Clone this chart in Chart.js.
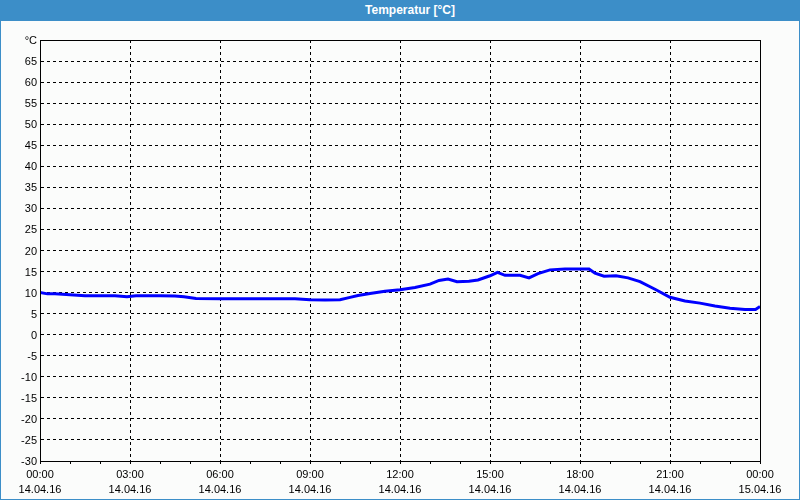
<!DOCTYPE html>
<html>
<head>
<meta charset="utf-8">
<script src="https://cdn.jsdelivr.net/npm/chart.js@4"></script>
<style>
  html, body { margin: 0; padding: 0; background: #fbfcfb; }
  #wrap {
    width: 800px; height: 500px; box-sizing: border-box;
    border: 1px solid #3c8ec8; border-top: none;
    background: #fbfcfb; position: relative;
  }
  #title {
    height: 21px; margin: 0 -1px; background: #3c8ec8; color: #fff;
    font: bold 12px 'Liberation Sans', Arial, sans-serif;
    line-height: 20px; text-align: center; padding-left: 20px;
  }
  canvas { display: block; }
</style>
</head>
<body>
<div id="wrap">
  <div id="title">Temperatur [°C]</div>
  <canvas id="temp" width="798" height="478"></canvas>
</div>
<script>
// hours since 14.04.16 00:00
const hours = [
    0, 0.25, 0.5, 1.0, 1.5, 2.0, 2.5, 2.9, 3.2, 3.5, 4.0, 4.5, 4.8, 5.2,
    6.0, 7.0, 8.0, 8.5, 9.0, 9.5, 10.0, 10.3, 10.6, 11.0, 11.5, 12.0, 12.5,
    13.0, 13.3, 13.6, 13.9, 14.3, 14.6, 15.0, 15.25, 15.5, 16.0, 16.3, 16.6,
    17.0, 17.5, 18.0, 18.3, 18.5, 18.8, 19.2, 19.6, 20.0, 20.5, 21.0, 21.5,
    22.0, 22.5, 23.0, 23.5, 23.85, 24.0,
];
const temps = [
    10.0, 9.7, 9.7, 9.5, 9.25, 9.25, 9.25, 9.0, 9.25, 9.25, 9.25, 9.2, 9.0, 8.6,
    8.55, 8.55, 8.55, 8.55, 8.3, 8.25, 8.3, 8.8, 9.3, 9.8, 10.3, 10.7, 11.2,
    12.0, 12.9, 13.2, 12.6, 12.7, 13.0, 14.0, 14.8, 14.1, 14.1, 13.5, 14.5,
    15.4, 15.6, 15.6, 15.6, 14.6, 13.9, 14.0, 13.5, 12.6, 10.8, 8.9, 8.0,
    7.5, 6.8, 6.3, 6.0, 6.0, 6.7,
];
const timeLabels = ['00:00', '03:00', '06:00', '09:00', '12:00', '15:00', '18:00', '21:00', '00:00'];
const dateLabels = ['14.04.16', '14.04.16', '14.04.16', '14.04.16', '14.04.16', '14.04.16', '14.04.16', '14.04.16', '15.04.16'];

const font = { family: "'Liberation Sans', Arial, sans-serif", size: 11, lineHeight: 15 / 11 };

// solid frame round the plot area
const frame = {
    id: 'frame',
    afterDraw(chart) {
        const a = chart.chartArea;
        const ctx = chart.ctx;
        ctx.save();
        ctx.strokeStyle = '#000';
        ctx.lineWidth = 1;
        ctx.strokeRect(a.left + 0.5, a.top + 0.5, a.right - a.left, a.bottom - a.top);
        ctx.restore();
    },
};

new Chart(document.getElementById('temp'), {
    type: 'line',
    data: {
        datasets: [{
            data: hours.map((h, i) => ({ x: h, y: temps[i] })),
            borderColor: '#0000ff',
            borderWidth: 3,
            pointRadius: 0,
            tension: 0,
            fill: false,
        }],
    },
    options: {
        responsive: false,
        animation: false,
        layout: { padding: { left: 0, right: 39, top: 19, bottom: 0 } },
        plugins: { legend: { display: false }, tooltip: { enabled: false } },
        scales: {
            x: {
                type: 'linear',
                min: 0,
                max: 24,
                afterFit(scale) { scale.height = 38; },
                ticks: {
                    stepSize: 1,
                    autoSkip: false,
                    maxRotation: 0,
                    padding: 3,
                    color: '#000',
                    font: font,
                    callback(v) {
                        if (v % 3 !== 0) return '';
                        return [timeLabels[v / 3], dateLabels[v / 3]];
                    },
                },
                grid: {
                    color: ctx => (ctx.tick && ctx.tick.value % 3 === 0) ? '#000' : 'rgba(0,0,0,0)',
                    tickColor: '#000',
                    tickLength: 3,
                    drawTicks: true,
                },
                border: { display: true, color: '#000', dash: [3, 3] },
            },
            y: {
                min: -30,
                max: 70,
                afterFit(scale) { scale.width = 39; },
                ticks: {
                    stepSize: 5,
                    padding: 3,
                    labelOffset: 1,
                    color: '#000',
                    font: font,
                    callback: v => (v === 70 ? '°C' : v),
                },
                grid: { color: '#000', drawTicks: false },
                border: { display: true, color: '#000', dash: [3, 3] },
            },
        },
    },
    plugins: [frame],
});
</script>
</body>
</html>
